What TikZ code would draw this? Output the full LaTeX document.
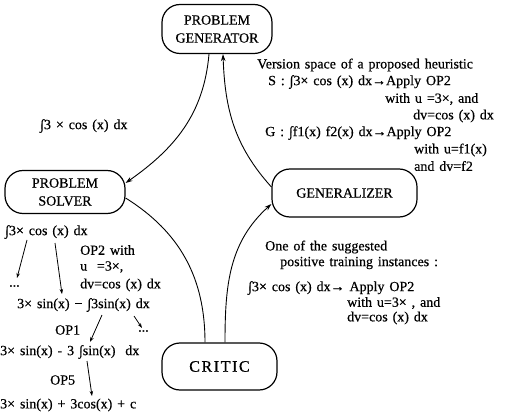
\documentclass[tikz,border=0pt]{standalone}
\usepackage{fontspec}
\setmainfont{Liberation Serif}[WordSpace=1.4,FakeBold=0.5]
\newfontfamily\criticfont{Liberation Serif}[LetterSpace=10,FakeBold=0.5]
\usetikzlibrary{arrows.meta}

\begin{document}
\begin{tikzpicture}[x=1pt,y=-1pt,
  module/.style={draw,line width=1.2pt,rounded corners=18pt,align=center,inner sep=0pt,font=\fontsize{14}{18}\selectfont},
  txt/.style={anchor=west,inner sep=0pt,font=\fontsize{14}{15}\selectfont},
  flow/.style={line width=0.9pt,-{Stealth[length=7pt,width=4.5pt]}},
  deriv/.style={line width=0.8pt,-{Stealth[length=5pt,width=3.5pt]}}]
\useasboundingbox (0,0) rectangle (506,414);

% the four modules
\node[module,minimum width=110pt,minimum height=49pt] (gen) at (217,29) {PROBLEM\\GENERATOR};
\node[module,minimum width=120pt,minimum height=43pt] (solver) at (65,192) {PROBLEM\\SOLVER};
\node[module,minimum width=145pt,minimum height=48pt] (genz) at (344.5,193) {GENERALIZER};
\node[module,minimum width=115pt,minimum height=47pt,font=\criticfont\fontsize{16}{18}\selectfont] (critic) at (219.5,366.5) {CRITIC};

% cycle between them
\draw[flow] ([xshift=-8pt]gen.south) to[out=-95,in=35] ([yshift=9pt]solver.east);
\draw[line width=0.9pt] ([yshift=-6pt]solver.east) to[out=-32,in=90] ([xshift=-14.5pt]critic.north);
\draw[flow] ([xshift=5.5pt]critic.north) to[out=90,in=222] ([yshift=-11pt]genz.west);
\draw[flow] ([yshift=6pt]genz.west) to[out=132,in=-88] ([xshift=6pt]gen.south);

\node[txt] (task) at (40,126) {∫3 × cos (x) dx};

% version space
\node[txt] (vs) at (257,65) {Version space of a proposed heuristic};
\node[txt] (vsS) at (268,82) {S : ∫3× cos (x) dx→Apply OP2};
\node[txt] (vsS2) at (385,99) {with u =3×, and};
\node[txt] (vsS3) at (413,116) {dv=cos (x) dx};
\node[txt] (vsG) at (265,133) {G : ∫f1(x) f2(x) dx→Apply OP2};
\node[txt] (vsG2) at (414,150) {with u=f1(x)};
\node[txt] (vsG3) at (414,166) {and dv=f2};

% training instance
\node[txt] (inst) at (265,247) {One of the suggested};
\node[txt] (inst2) at (280,263) {positive training instances :};
\node[txt] (inst3) at (248,288) {∫3× cos (x) dx→ Apply OP2};
\node[txt] (inst4) at (347,303) {with u=3× , and};
\node[txt] (inst5) at (347,318) {dv=cos (x) dx};

% solution trace
\node[txt] (d1) at (5,232) {∫3× cos (x) dx};
\node[txt] (op2) at (80,250) {OP2 with};
\node[txt] (op2u) at (80,267) {u \ =3×,};
\node[txt] (op2dv) at (80,285) {dv=cos (x) dx};
\node[txt] (dots1) at (9,286) {...};
\node[txt] (d2) at (17,305) {3× sin(x) − ∫3sin(x) dx};
\node[txt] (op1) at (55,330) {OP1};
\node[txt] (dots2) at (138,331) {...};
\node[txt] (d3) at (0,352) {3× sin(x) - 3 ∫sin(x) \ dx};
\node[txt] (op5) at (50,380) {OP5};
\node[txt] (d4) at (0,405) {3× sin(x) + 3cos(x) + c};

\coordinate (a1) at (27,240);
\coordinate (a2) at (55,243);
\coordinate (a3) at (102,315);
\coordinate (a4) at (134,316);
\coordinate (a5) at (87,361);
\coordinate (b1) at (17,278);
\coordinate (b2) at (62,294);
\coordinate (b3) at (90,342);
\coordinate (b4) at (142,328);
\coordinate (b5) at (92,396);
\draw[deriv] (a1) -- (b1);
\draw[deriv] (a2) -- (b2);
\draw[deriv] (a3) -- (b3);
\draw[deriv] (a4) -- (b4);
\draw[deriv] (a5) -- (b5);
\end{tikzpicture}
\end{document}
